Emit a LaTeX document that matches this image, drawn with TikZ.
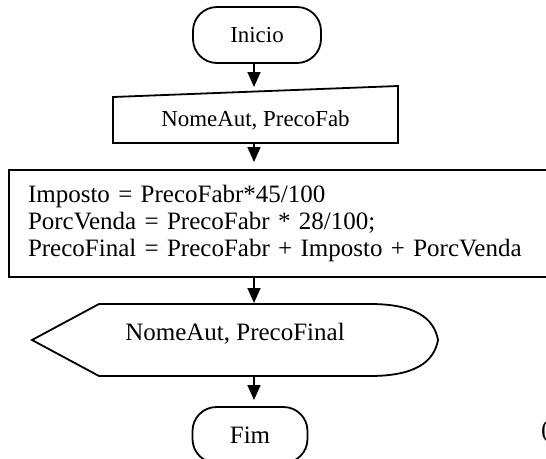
\documentclass[tikz,border=0pt]{standalone}
\usepackage{fontspec}
\setmainfont{Liberation Serif}
\usetikzlibrary{arrows.meta}

\begin{document}
\begin{tikzpicture}[x=1pt,y=-1pt,
  smalltext/.style={font=\fontsize{22.9}{27}\selectfont},
  bigtext/.style={font=\fontsize{25}{27}\selectfont},
  outline/.style={draw, line width=1.8pt},
  shapebox/.style={inner sep=0pt, outer sep=0pt},
  terminal/.style={shapebox, outline, rounded corners=24pt, minimum height=56pt},
  flow/.style={line width=1.7pt, -{Triangle[width=13pt,length=15pt]}}
]
\useasboundingbox (0,0) rectangle (546,458);

% column of the vertical connectors
\coordinate (col) at (254,0);

% start terminal
\node[terminal, smalltext, minimum width=128pt] (start) at (257,35) {Inicio};

% manual input (slanted top)
\node[shapebox, smalltext, minimum width=285pt, minimum height=46pt] (inp) at (255.5,120) {NomeAut, PrecoFab};
\draw[outline] (inp.south west) -- (inp.north west) -- ([yshift=11pt]inp.north east)
  -- (inp.south east) -- cycle;

% processing block (runs past the right border)
\node[shapebox, outline, bigtext, minimum width=539pt, minimum height=107pt,
      inner xsep=19pt, text width=501pt, align=left] (calc) at (278.5,223.5)
  {Imposto = PrecoFabr*45/100\\
   PorcVenda = PrecoFabr * 28/100;\\
   PrecoFinal = PrecoFabr + Imposto + PorcVenda};

% display output
\node[shapebox, bigtext, text height=0pt, text depth=0pt, minimum width=406pt,
      minimum height=72pt] (out) at (235,340) {NomeAut, PrecoFinal};
\draw[outline] (out.west) -- ([xshift=67pt]out.north west) -- ([xshift=-68pt]out.north east)
  .. controls ([xshift=-23pt]out.north east) and ([xshift=-4pt,yshift=-14pt]out.north east) .. (out.east)
  .. controls ([xshift=-4pt,yshift=14pt]out.south east) and ([xshift=-23pt]out.south east) .. ([xshift=-68pt]out.south east)
  -- ([xshift=67pt]out.south west) -- cycle;

% end terminal
\node[terminal, bigtext, minimum width=115pt] (end) at (250,435) {Fim};

% stray glyph at the right border
\node[bigtext, shapebox, anchor=base west] (cut) at (541,437) {(};

% connectors
\draw[flow, shorten >=10pt] (start.south -| col) -- (inp.north -| col);
\draw[flow, shorten >=8pt] (inp.south -| col) -- (calc.north -| col);
\draw[flow, shorten >=1pt] (calc.south -| col) -- (out.north -| col);
\draw[flow, shorten >=7pt] (out.south -| col) -- (end.north -| col);
\end{tikzpicture}
\end{document}
